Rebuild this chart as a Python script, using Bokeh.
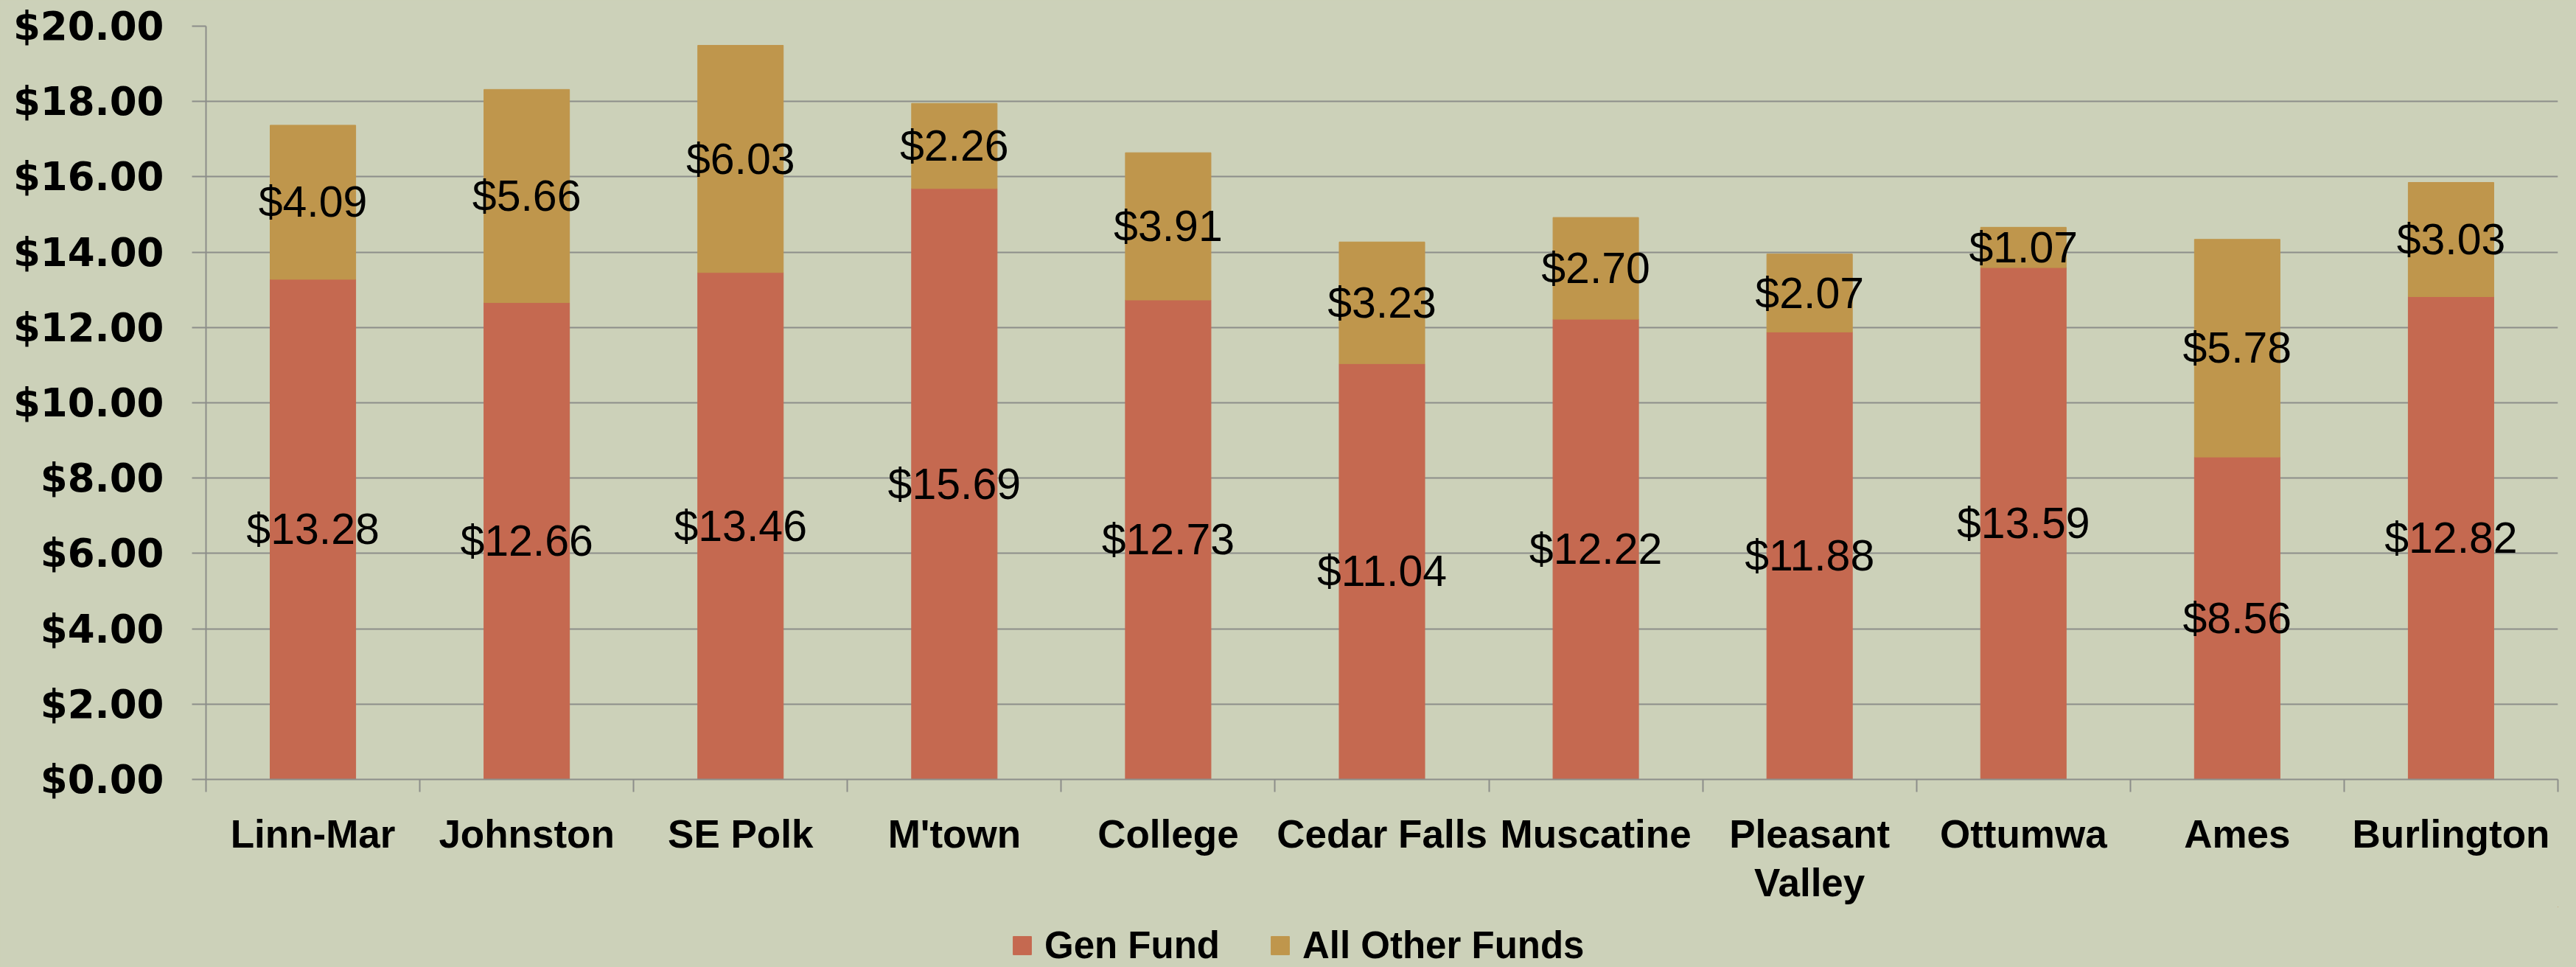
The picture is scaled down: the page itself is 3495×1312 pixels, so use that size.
from bokeh.plotting import figure
from bokeh.layouts import column
from bokeh.models import ColumnDataSource, Range1d, FixedTicker, Legend, LegendItem
from bokeh.core.properties import value
from bokeh.embed import file_html
from bokeh.resources import INLINE

# ---- data ----
districts = ["Linn-Mar", "Johnston", "SE Polk", "M'town", "College", "Cedar Falls",
             "Muscatine", "Pleasant\nValley", "Ottumwa", "Ames", "Burlington"]
gen_fund = [13.28, 12.66, 13.46, 15.69, 12.73, 11.04, 12.22, 11.88, 13.59, 8.56, 12.82]
other_funds = [4.09, 5.66, 6.03, 2.26, 3.91, 3.23, 2.70, 2.07, 1.07, 5.78, 3.03]
series_names = ["Gen Fund", "All Other Funds"]
y_ticks = [0, 2, 4, 6, 8, 10, 12, 14, 16, 18, 20]

# ---- style ----
BG = "#CCD1B9"
RED = "#C56950"
GOLD = "#BF964C"
GRID = "#8C8E8A"
FONT = "Liberation Sans"

W = 3495
H_MAIN = 1230
H_LEG = 1312 - H_MAIN

xs = list(range(len(districts)))
gen_mid = [g / 2 for g in gen_fund]
oth_mid = [g + o / 2 for g, o in zip(gen_fund, other_funds)]
src = ColumnDataSource(dict(
    x=xs, gen=gen_fund, other=other_funds,
    gen_mid=gen_mid, oth_mid=oth_mid,
    gen_lbl=["$%.2f" % v for v in gen_fund],
    oth_lbl=["$%.2f" % v for v in other_funds],
))

p = figure(width=W, height=H_MAIN,
           x_range=Range1d(-0.5, len(districts) - 0.5), y_range=Range1d(0, 20),
           output_backend="svg", toolbar_location=None,
           min_border_left=279, min_border_right=25, min_border_top=35,
           min_border_bottom=H_MAIN - 1058,
           background_fill_color=BG, border_fill_color=BG, outline_line_color=None)

rs = p.vbar_stack(["gen", "other"], x="x", width=0.4, color=[RED, GOLD], source=src)

p.text(x="x", y="gen_mid", text="gen_lbl", source=src, text_align="center",
       text_baseline="middle", text_font=value(FONT), text_font_size=value("59px"),
       text_color="black")
p.text(x="x", y="oth_mid", text="oth_lbl", source=src, text_align="center",
       text_baseline="middle", text_font=value(FONT), text_font_size=value("59px"),
       text_color="black")

# y axis
p.yaxis.ticker = FixedTicker(ticks=y_ticks)
p.yaxis.major_label_overrides = {t: "$%.2f" % t for t in y_ticks}
p.yaxis.axis_line_color = GRID
p.yaxis.axis_line_width = 2
p.yaxis.major_tick_line_color = GRID
p.yaxis.major_tick_line_width = 2
p.yaxis.major_tick_out = 19
p.yaxis.major_tick_in = 0
p.yaxis.minor_tick_line_color = None
p.yaxis.major_label_text_font = "DejaVu Sans"
p.yaxis.major_label_text_font_style = "bold"
p.yaxis.major_label_text_font_size = "53px"
p.yaxis.major_label_text_color = "black"
p.yaxis.major_label_standoff = 38

# x axis
p.xaxis.ticker = FixedTicker(ticks=xs, minor_ticks=[i - 0.5 for i in range(len(districts) + 1)])
p.xaxis.major_label_overrides = {i: d for i, d in zip(xs, districts)}
p.xaxis.axis_line_color = GRID
p.xaxis.axis_line_width = 2
p.xaxis.major_tick_line_color = None
p.xaxis.major_tick_out = 0
p.xaxis.major_tick_in = 0
p.xaxis.minor_tick_line_color = GRID
p.xaxis.minor_tick_line_width = 2
p.xaxis.minor_tick_out = 17
p.xaxis.minor_tick_in = 0
p.xaxis.major_label_text_font = FONT
p.xaxis.major_label_text_font_style = "bold"
p.xaxis.major_label_text_font_size = "53px"
p.xaxis.major_label_text_color = "black"
p.xaxis.major_label_text_line_height = 1.13
p.xaxis.major_label_standoff = 27

p.xgrid.visible = False
p.ygrid.ticker = FixedTicker(ticks=y_ticks)
p.ygrid.grid_line_color = GRID
p.ygrid.grid_line_width = 2

# ---- legend strip (swatch renderers sit outside the strip's visible range) ----
q = figure(width=W, height=H_LEG, x_range=Range1d(0, 1), y_range=Range1d(0, 1),
           output_backend="svg", toolbar_location=None,
           x_axis_location=None, y_axis_location=None,
           min_border_left=279, min_border_right=25,
           min_border_top=0, min_border_bottom=0,
           background_fill_color=BG, border_fill_color=BG, outline_line_color=None)
q.grid.visible = False
lr0 = q.vbar(x=[5], top=[5], bottom=[4], width=0.1, color=RED)
lr1 = q.vbar(x=[5], top=[5], bottom=[4], width=0.1, color=GOLD)

legend = Legend(items=[LegendItem(label=series_names[0], renderers=[lr0]),
                       LegendItem(label=series_names[1], renderers=[lr1])],
                orientation="horizontal", location=(1371 - 279, 0),
                glyph_width=31, glyph_height=31, label_standoff=15, spacing=66,
                padding=0, margin=0, border_line_color=None, background_fill_alpha=0,
                label_text_font=FONT, label_text_font_style="bold",
                label_text_font_size="51px", label_text_color="black")
q.add_layout(legend, "center")

layout = column(p, q, spacing=0, styles={"background-color": BG})
open("out.html", "w").write(file_html(layout, INLINE))
